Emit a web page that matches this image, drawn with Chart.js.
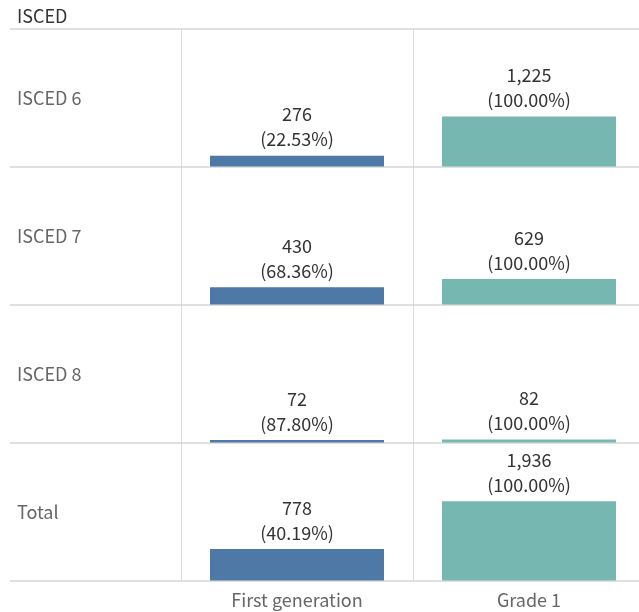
<!DOCTYPE html>
<html>
<head>
<meta charset="utf-8">
<script src="https://cdn.jsdelivr.net/npm/chart.js@4.4.0/dist/chart.umd.min.js"></script>
<style>
  html, body { margin: 0; padding: 0; background: #fff; overflow: hidden; }
  #wrap { width: 650px; height: 612px; }
</style>
</head>
<body>
<div id="wrap"><canvas id="iscedChart" width="650" height="612"></canvas></div>
<script>
// data
const headerTitle = 'ISCED';
const rows = ['ISCED 6', 'ISCED 7', 'ISCED 8', 'Total'];
const columns = ['First generation', 'Grade 1'];
const firstGen = [276, 430, 72, 778];
const grade1 = [1225, 629, 82, 1936];
const firstGenPct = [22.53, 68.36, 87.80, 40.19];
const grade1Pct = [100, 100, 100, 100];

const FONT = '"Noto Sans CJK SC", "Noto Sans", sans-serif';
const BLUE = '#4e79a7';
const TEAL = '#76b7b2';

// one y axis per row, stacked on top of each other
const scales = {
    x: {
        type: 'category',
        offset: true,
        grid: { offset: true, drawTicks: false, color: '#dcdcdc', lineWidth: 1 },
        border: { display: false },
        ticks: { color: '#666', font: { family: FONT, size: 18 }, padding: 8 },
        afterFit: s => { s.height = 30; }
    }
};
rows.forEach((r, i) => {
    scales['row' + i] = {
        type: 'linear',
        position: 'left',
        stack: 'rows',
        stackWeight: 1,
        weight: rows.length - i,
        min: 0,
        max: 3350,
        ticks: { display: false, stepSize: 1000 },
        grid: {
            drawTicks: false,
            lineWidth: 1,
            color: c => (c.tick.value > 0 && c.tick.value % 1000 === 0) ? '#efefef' : 'rgba(0,0,0,0)'
        },
        border: { display: false },
        afterFit: s => { s.width = 0; }
    };
});

const datasets = rows.map((r, i) => ({
    label: r,
    data: [firstGen[i], grade1[i]],
    yAxisID: 'row' + i,
    backgroundColor: [BLUE, TEAL],
    grouped: false,
    categoryPercentage: 1,
    barPercentage: 0.75
}));

// row labels, header and separators
const framePlugin = {
    id: 'frame',
    beforeDatasetsDraw(chart) {
        const ctx = chart.ctx;
        ctx.save();
        ctx.strokeStyle = '#d6d6d6';
        ctx.lineWidth = 1.5;
        rows.forEach((r, i) => {
            const s = chart.scales['row' + i];
            if (i === 0) {
                ctx.beginPath(); ctx.moveTo(10, s.top); ctx.lineTo(chart.width, s.top); ctx.stroke();
            }
            ctx.beginPath(); ctx.moveTo(10, s.bottom); ctx.lineTo(chart.width, s.bottom); ctx.stroke();
        });
        ctx.restore();
    },
    afterDraw(chart) {
        const ctx = chart.ctx;
        ctx.save();
        ctx.textAlign = 'left';
        ctx.textBaseline = 'middle';
        ctx.font = '18px ' + FONT;
        ctx.fillStyle = '#333';
        ctx.fillText(headerTitle, 17, 16);
        ctx.fillStyle = '#666';
        rows.forEach((r, i) => {
            const s = chart.scales['row' + i];
            ctx.fillText(r, 17, (s.top + s.bottom) / 2);
        });
        ctx.restore();
    }
};

// value + percentage above each bar
const labelPlugin = {
    id: 'barLabels',
    afterDatasetsDraw(chart) {
        const ctx = chart.ctx;
        ctx.save();
        ctx.font = '18px ' + FONT;
        ctx.fillStyle = '#333';
        ctx.textAlign = 'center';
        ctx.textBaseline = 'middle';
        chart.data.datasets.forEach((ds, i) => {
            chart.getDatasetMeta(i).data.forEach((bar, j) => {
                const pct = (j === 0 ? firstGenPct : grade1Pct)[i];
                ctx.fillText(ds.data[j].toLocaleString('en-US'), bar.x, bar.y - 41);
                ctx.fillText('(' + pct.toFixed(2) + '%)', bar.x, bar.y - 16);
            });
        });
        ctx.restore();
    }
};

new Chart(document.getElementById('iscedChart'), {
    type: 'bar',
    data: { labels: columns, datasets: datasets },
    options: {
        responsive: false,
        animation: false,
        layout: { padding: { top: 29, left: 181, right: 5, bottom: 1 } },
        plugins: { legend: { display: false }, tooltip: { enabled: false } },
        scales: scales
    },
    plugins: [framePlugin, labelPlugin]
});
</script>
</body>
</html>
